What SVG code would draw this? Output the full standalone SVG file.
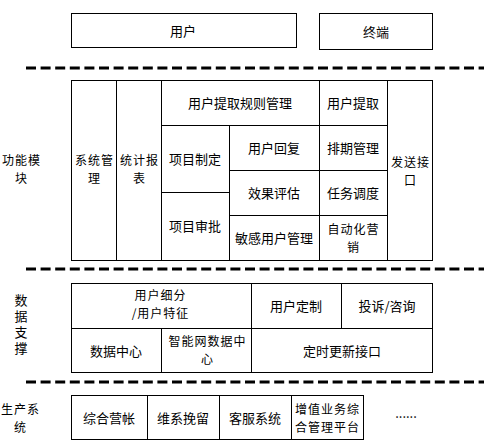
<svg xmlns="http://www.w3.org/2000/svg" width="484" height="443" viewBox="0 0 484 443">
<style>
rect.b{fill:#fff;stroke:#000;stroke-width:1}
text{font-family:"Noto Sans CJK SC","Liberation Sans",sans-serif;font-size:13px;fill:#000;text-anchor:middle;dominant-baseline:central}
text.m{font-size:12px;letter-spacing:1px}
line.d{stroke:#000;stroke-width:3;stroke-dasharray:10 4.6}
</style>
<rect width="484" height="443" fill="#fff"/>
<g id="separators">
<line class="d" x1="26" y1="68" x2="484" y2="68"/>
<line class="d" x1="26" y1="269" x2="484" y2="269"/>
<line class="d" x1="26" y1="382" x2="484" y2="382"/>
</g>
<g id="user"><rect class="b" x="71.5" y="13.5" width="225" height="34"/><text x="183" y="30">用户</text></g>
<g id="terminal"><rect class="b" x="319.5" y="13.5" width="113" height="36"/><text x="376" y="31">终端</text></g>

<g id="label-func"><text class="m" x="21.5" y="159">功能模<tspan x="21.5" y="177">块</tspan></text></g>
<g id="sysmgmt"><rect class="b" x="71.5" y="80.5" width="45" height="180"/><text class="m" x="94.5" y="159">系统管<tspan x="94.5" y="177">理</tspan></text></g>
<g id="stats"><rect class="b" x="116.5" y="80.5" width="45" height="180"/><text class="m" x="139.5" y="159">统计报<tspan x="139.5" y="177">表</tspan></text></g>
<g id="rule"><rect class="b" x="161.5" y="80.5" width="158" height="45"/><text x="240" y="102">用户提取规则管理</text></g>
<g id="extract"><rect class="b" x="319.5" y="80.5" width="68" height="45"/><text x="353" y="102">用户提取</text></g>
<g id="send"><rect class="b" x="387.5" y="80.5" width="45" height="180"/><text class="m" x="410.5" y="161">发送接<tspan x="410.5" y="178.5">口</tspan></text></g>
<g id="proj-make"><rect class="b" x="161.5" y="125.5" width="68" height="67"/><text x="195" y="158">项目制定</text></g>
<g id="proj-approve"><rect class="b" x="161.5" y="192.5" width="68" height="68"/><text x="195" y="225">项目审批</text></g>
<g id="reply"><rect class="b" x="229.5" y="125.5" width="90" height="45"/><text x="274" y="147">用户回复</text></g>
<g id="eval"><rect class="b" x="229.5" y="170.5" width="90" height="45"/><text x="274" y="192">效果评估</text></g>
<g id="sensitive"><rect class="b" x="229.5" y="215.5" width="90" height="45"/><text x="274" y="237">敏感用户管理</text></g>
<g id="schedule"><rect class="b" x="319.5" y="125.5" width="68" height="45"/><text x="353" y="147">排期管理</text></g>
<g id="dispatch"><rect class="b" x="319.5" y="170.5" width="68" height="45"/><text x="353" y="192">任务调度</text></g>
<g id="auto"><rect class="b" x="319.5" y="215.5" width="68" height="45"/><text class="m" x="353.5" y="228.5">自动化营<tspan x="353.5" y="246">销</tspan></text></g>

<g id="label-data"><text x="21" y="326" style="writing-mode:vertical-rl;letter-spacing:3px">数据支撑</text></g>
<g id="segment"><rect class="b" x="71.5" y="283.5" width="180" height="45"/><text class="m" x="160.5" y="294">用户细分<tspan x="160.5" y="311.5">/用户特征</tspan></text></g>
<g id="custom"><rect class="b" x="251.5" y="283.5" width="90" height="45"/><text x="296" y="305">用户定制</text></g>
<g id="complaint"><rect class="b" x="341.5" y="283.5" width="91" height="45"/><text x="387" y="305">投诉/咨询</text></g>
<g id="datacenter"><rect class="b" x="71.5" y="328.5" width="90" height="44"/><text x="116" y="350">数据中心</text></g>
<g id="in-datacenter"><rect class="b" x="161.5" y="328.5" width="90" height="44"/><text class="m" x="207.5" y="340">智能网数据中<tspan x="207.5" y="357.5">心</tspan></text></g>
<g id="update"><rect class="b" x="251.5" y="328.5" width="181" height="44"/><text x="342" y="350">定时更新接口</text></g>

<g id="label-prod"><text class="m" x="20.5" y="408">生产系<tspan x="20.5" y="425.5">统</tspan></text></g>
<g id="billing"><rect class="b" x="71.5" y="395.5" width="76" height="44"/><text x="109" y="417">综合营帐</text></g>
<g id="retain"><rect class="b" x="147.5" y="395.5" width="72" height="44"/><text x="183" y="417">维系挽留</text></g>
<g id="cs"><rect class="b" x="219.5" y="395.5" width="72" height="44"/><text x="255" y="417">客服系统</text></g>
<g id="vas"><rect class="b" x="291.5" y="395.5" width="72" height="44"/><text class="m" x="327.5" y="408.5">增值业务综<tspan x="327.5" y="426">合管理平台</tspan></text></g>
<g id="more"><text x="406" y="412">......</text></g>
</svg>
